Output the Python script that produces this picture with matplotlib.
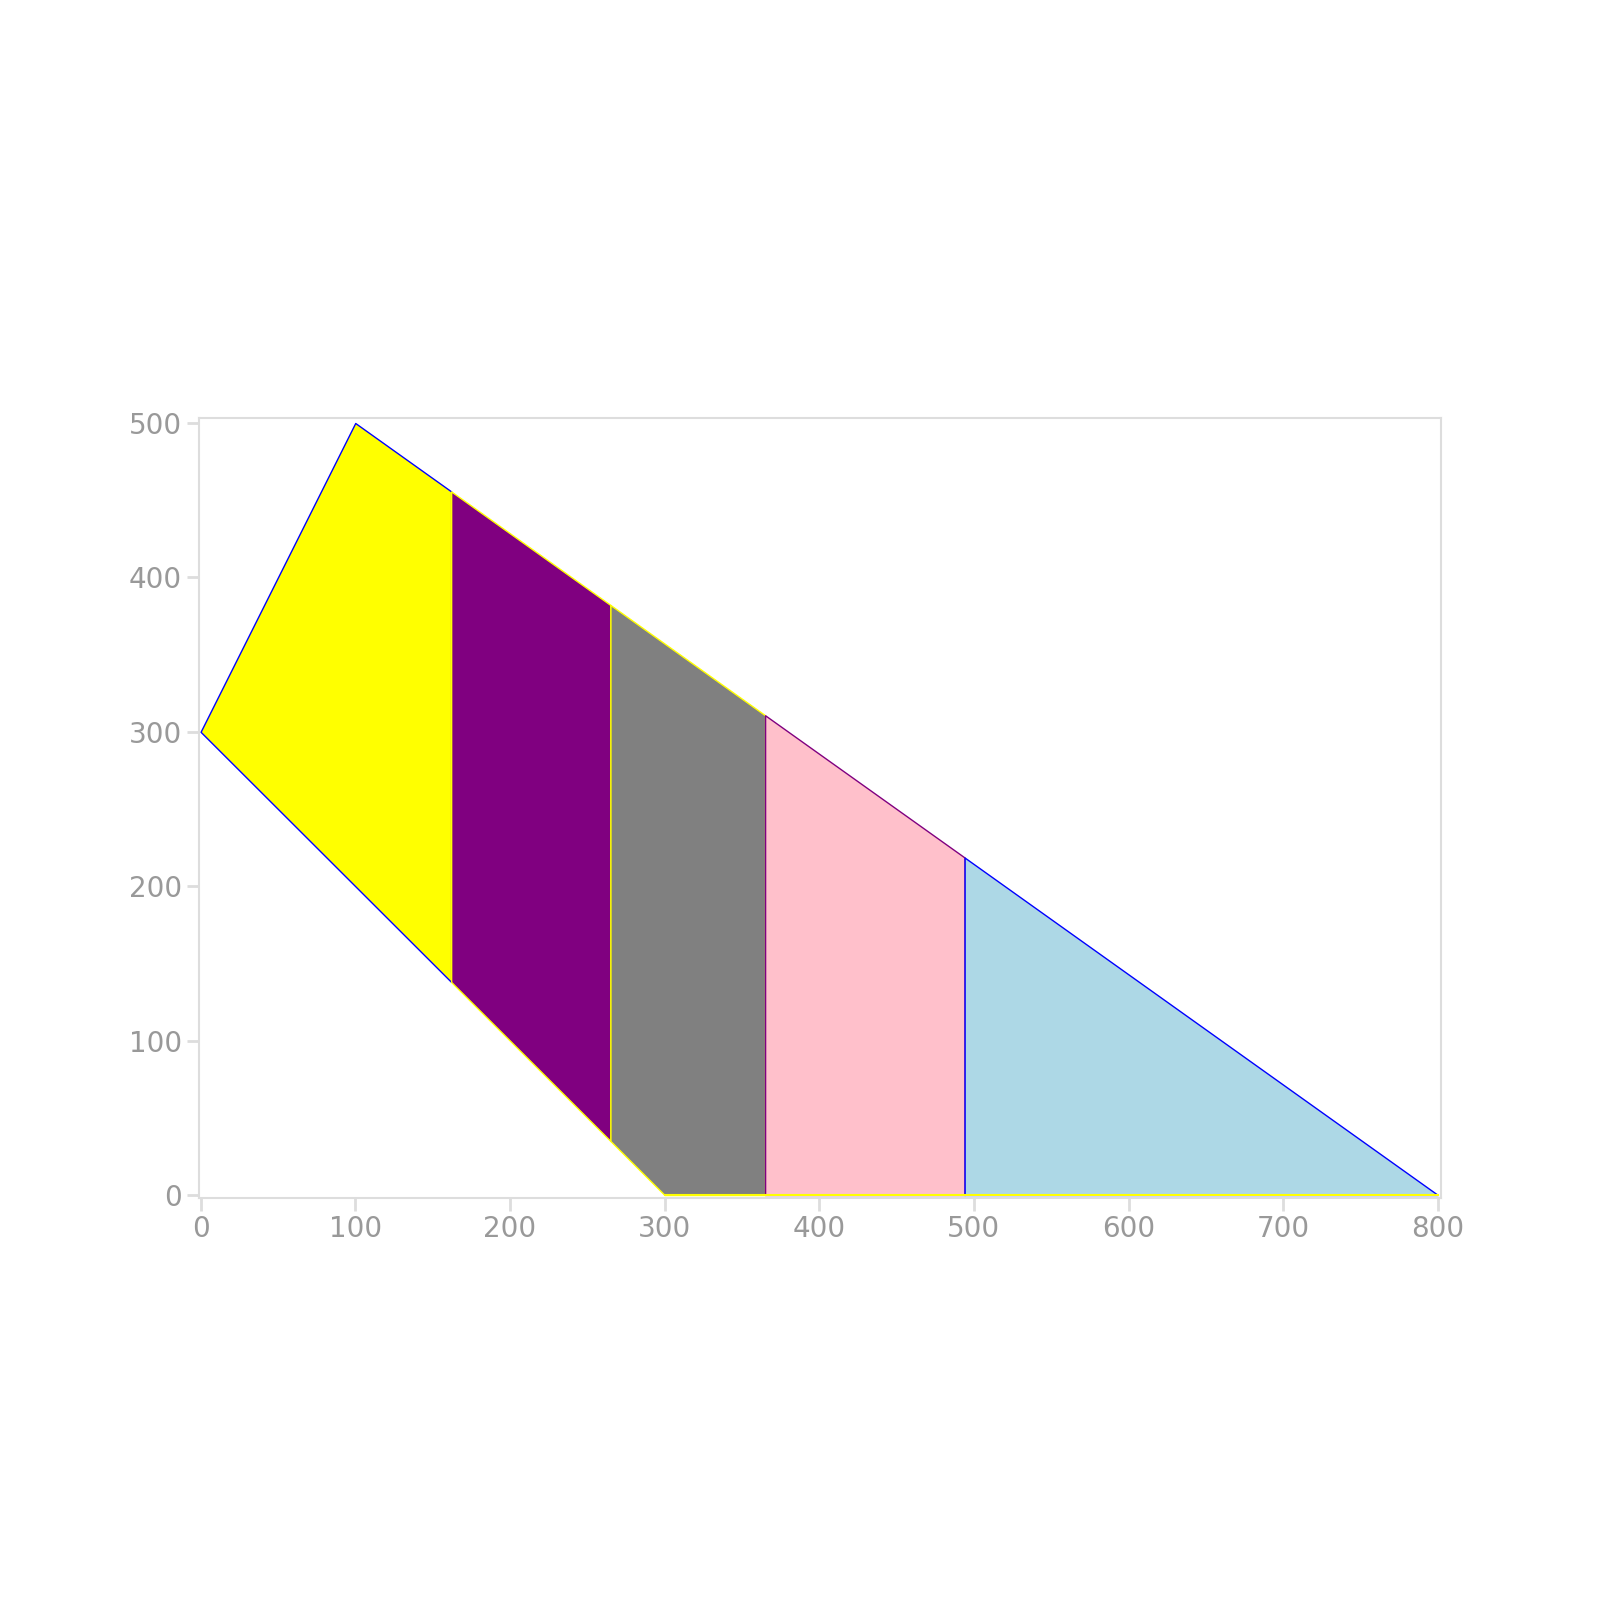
import numpy as np
import matplotlib.pyplot as plt

# outline of the shape (upper and lower boundary)
top_x = [0, 100, 800]
top_y = [300, 500, 0]
bottom_x = [0, 300, 800]
bottom_y = [300, 0, 0]

# vertical cuts between the coloured strips
cuts = [0, 162, 265, 365, 494, 800]
colors = ["yellow", "purple", "gray", "pink", "lightblue"]
edges = ["blue", "yellow", "yellow", "purple", "blue"]

fig = plt.figure(figsize=(16, 16), dpi=100)
ax = fig.add_axes([0.1244, 0.2512, 0.7762, 0.4878])

breaks = sorted(set(top_x + bottom_x))
for i, c in enumerate(colors):
    a, b = cuts[i], cuts[i + 1]
    xs = np.array([a] + [v for v in breaks if a < v < b] + [b], dtype=float)
    yt = np.interp(xs, top_x, top_y)
    yb = np.interp(xs, bottom_x, bottom_y)
    ax.fill_between(xs, yb, yt, facecolor=c, edgecolor=edges[i], linewidth=1.0)

ax.plot(bottom_x[1:], bottom_y[1:], color="yellow", linewidth=1.5)

ax.set_xlim(-1, 802)
ax.set_ylim(-2, 503.5)
ax.set_xticks(range(0, 801, 100))
ax.set_yticks(range(0, 501, 100))

for s in ax.spines.values():
    s.set_color("#dddddd")
    s.set_linewidth(1.5)
ax.tick_params(colors="#dddddd", length=9, width=2, labelsize=20, labelcolor="#999999")

fig.savefig("out.png", dpi=100)
